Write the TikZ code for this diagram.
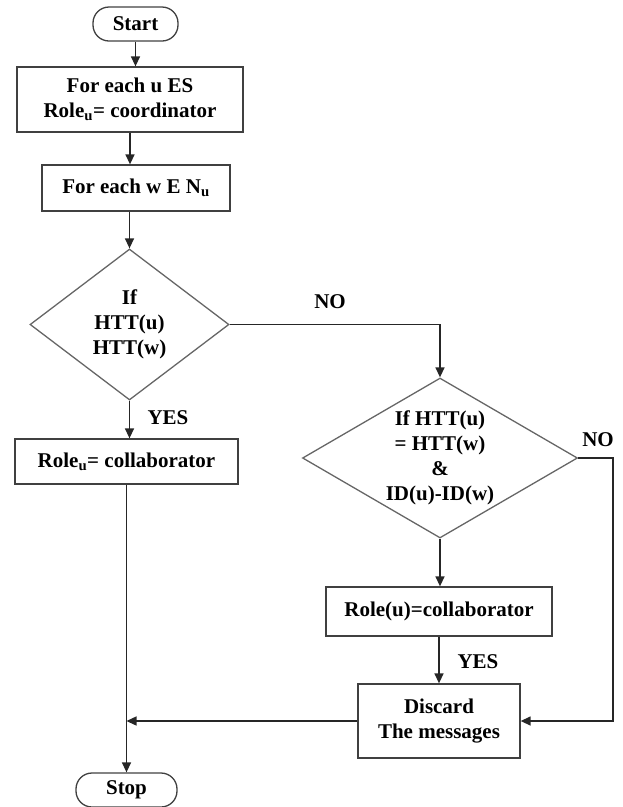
\documentclass[tikz,border=0pt]{standalone}
\usepackage{fontspec}
\setmainfont{Liberation Serif}
\usetikzlibrary{shapes.geometric,arrows.meta}
\begin{document}
\begin{tikzpicture}[x=1pt,y=-1pt]
		\tikzstyle{flow} = [-{Triangle[length=10pt,width=9pt]}, line width=1.4pt, black!85]
		\tikzstyle{line} = [line width=1.4pt, black!85]
		\tikzstyle{box} = [shape=rectangle, draw=black!75, line width=1.3pt, align=center, inner sep=0, font=\fontsize{21}{25}\selectfont\bfseries]
		\tikzstyle{term} = [box, rounded corners=16pt, minimum width=101pt, minimum height=34pt]
		\tikzstyle{decision} = [box, shape=diamond, draw=black!60]
		\tikzstyle{lbl} = [inner sep=0, font=\fontsize{21}{25}\selectfont\bfseries]
		\useasboundingbox (0,0) rectangle (623,807);
		
		\node [term, minimum width=85pt] (v1) at (135.5,24) {Start};
		\node [box, minimum width=226pt, minimum height=65pt] (v2) at (130,99.5) {For each u ES\\Role\textsubscript{u}= coordinator};
		\node [box, minimum width=188pt, minimum height=46pt] (v3) at (136,188) {For each w E N\textsubscript{u}};
		\node [decision, aspect=1.32, minimum width=199pt, minimum height=151pt] (v4) at (129.5,324.5) {If\\HTT(u)\\HTT(w)};
		\node [box, minimum width=223pt, minimum height=45pt] (v5) at (126.5,461.5) {Role\textsubscript{u}= collaborator};
		\node [decision, aspect=1.72, minimum width=275pt, minimum height=160pt] (v6) at (440,458) {If HTT(u)\\= HTT(w)\\\&\\ID(u)-ID(w)};
		\node [box, minimum width=226pt, minimum height=49pt] (v7) at (439,611.5) {Role(u)=collaborator};
		\node [box, minimum width=162pt, minimum height=74pt] (v8) at (439,721) {Discard\\The messages};
		\node [term] (v9) at (126.5,790) {Stop};
		
		\node [lbl] (v10) at (330,302) {NO};
		\node [lbl] (v11) at (168,418) {YES};
		\node [lbl] (v12) at (598,440) {NO};
		\node [lbl] (v13) at (478,662) {YES};
		
		\draw [flow] (v1.south) -- (v1.south |- v2.north);
		\draw [flow] (v2.south) -- (v2.south |- v3.north);
		\draw [flow] (v4.north |- v3.south) -- (v4.north);
		\draw [flow] (v4.south) -- (v4.south |- v5.north);
		\draw [flow] (v4.east) -| (v6.north);
		\draw [flow] (v6.south) -- (v6.south |- v7.north);
		\draw [flow] (v7.south) -- (v7.south |- v8.north);
		\draw [flow] (v6.east) -- ++(35,0) |- (v8.east);
		\draw [flow] (v5.south) -- (v5.south |- v9.north);
		\draw [flow] (v8.west) -- (v8.west -| v5.south);
\end{tikzpicture}
\end{document}
